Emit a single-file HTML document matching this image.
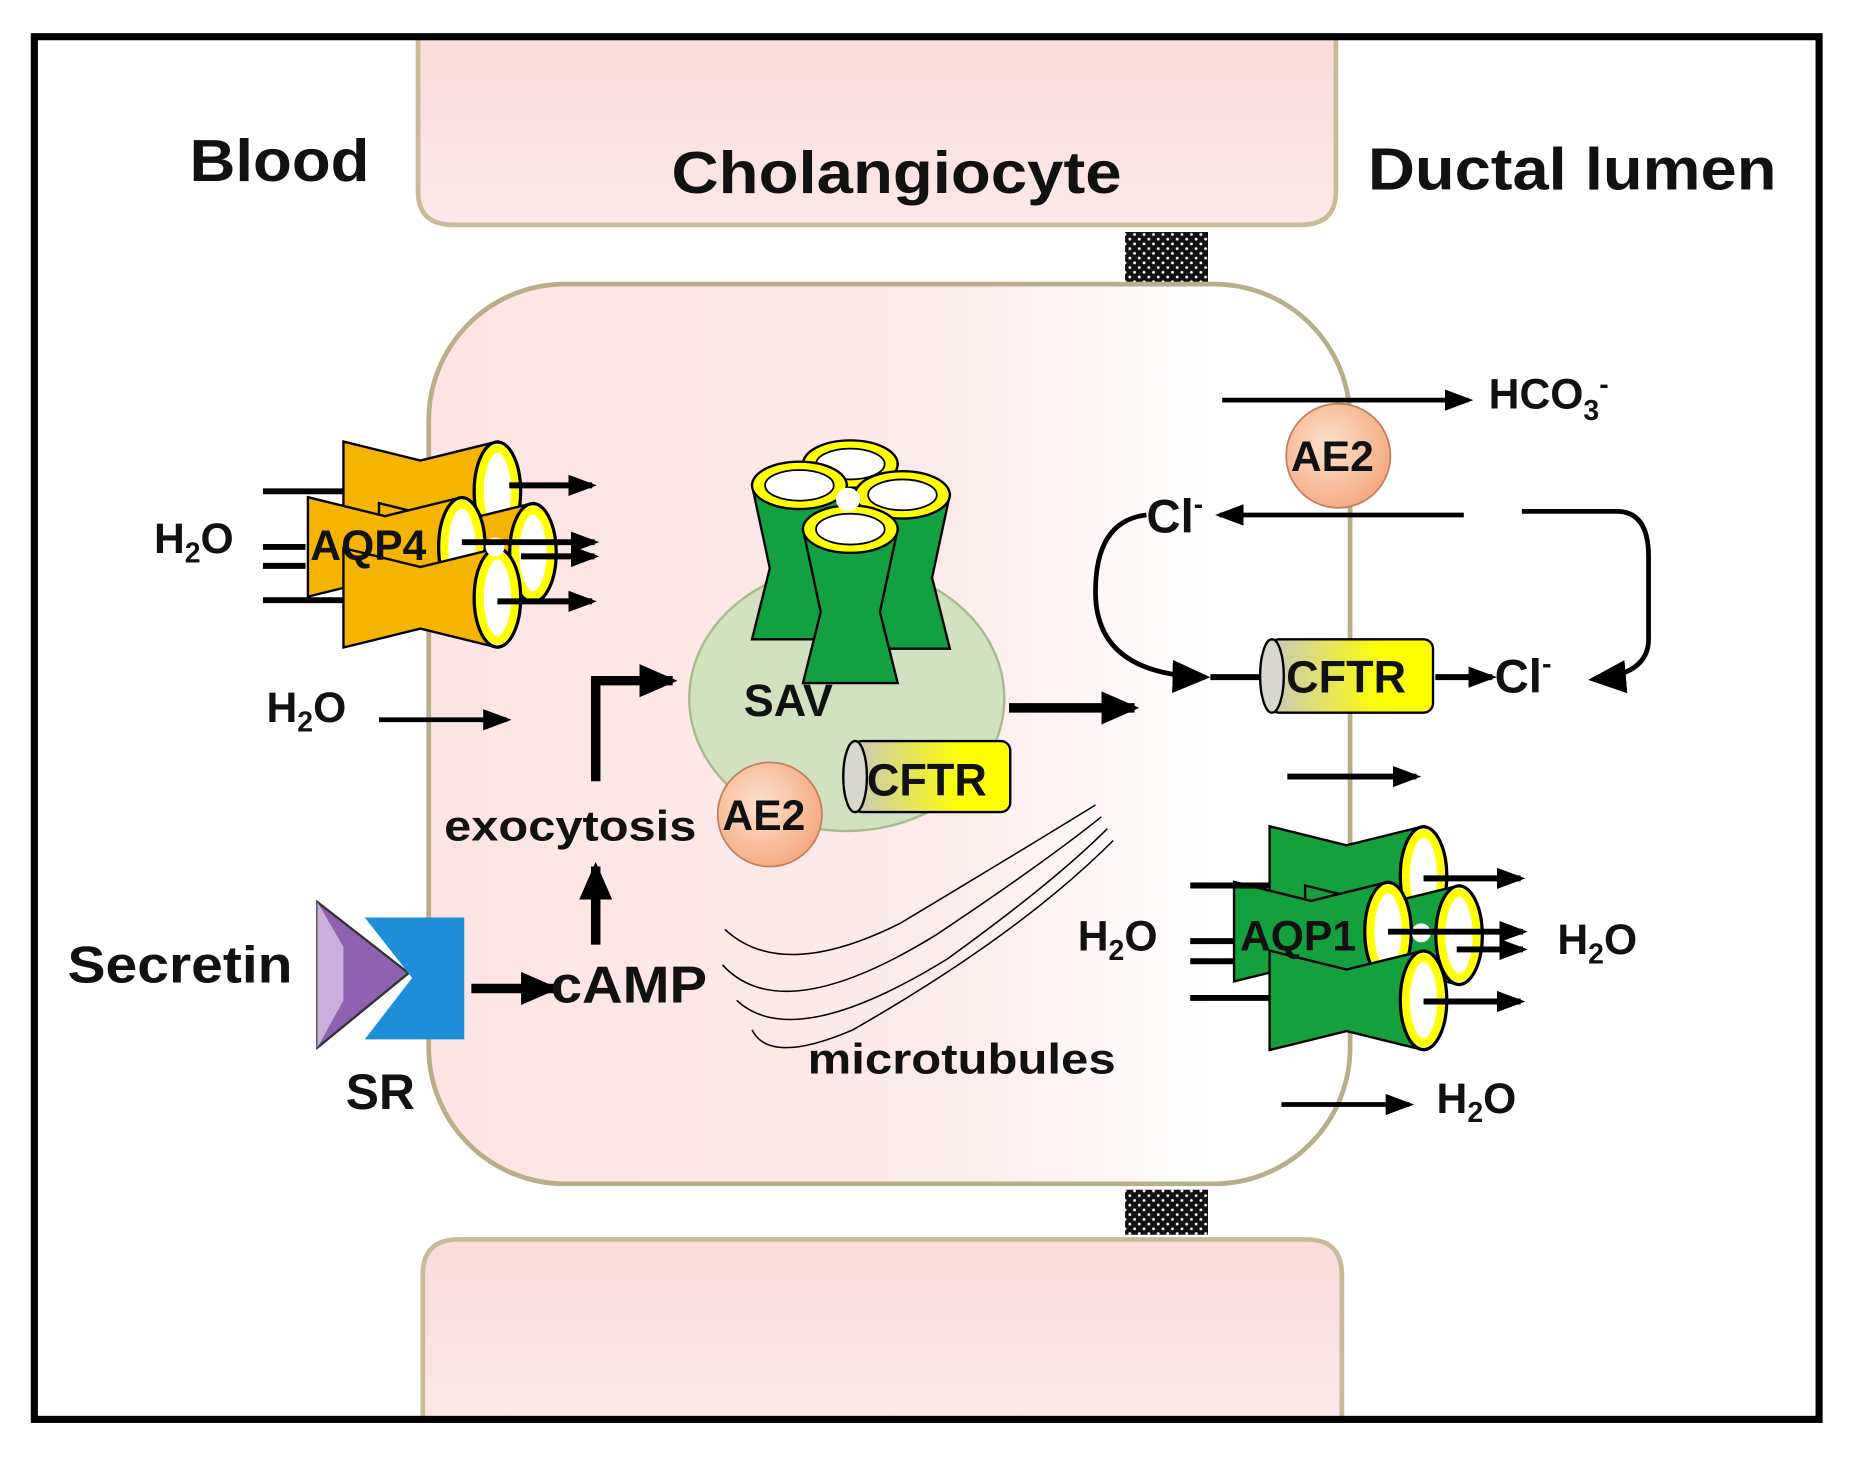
<!DOCTYPE html>
<html><head><meta charset="utf-8"><style>
html,body{margin:0;padding:0;background:#fff}
svg{display:block}
text{font-family:"Liberation Sans",Arial,sans-serif;font-weight:bold;fill:#111}
</style></head><body>
<svg width="1857" height="1462" viewBox="0 0 1568 1235" preserveAspectRatio="none" xmlns="http://www.w3.org/2000/svg">
<defs>
<linearGradient id="cellg" x1="0" x2="1" y1="0" y2="0">
<stop offset="0" stop-color="#fde4e4"/><stop offset="0.55" stop-color="#fdeaea"/><stop offset="0.85" stop-color="#ffffff"/></linearGradient>
<linearGradient id="topg" x1="0" y1="0" x2="0" y2="1"><stop offset="0" stop-color="#f9dcdc"/><stop offset="1" stop-color="#fbe8e8"/></linearGradient>
<linearGradient id="cftrg" x1="0" x2="1"><stop offset="0" stop-color="#c8c8c0"/><stop offset="0.7" stop-color="#ffff00"/></linearGradient>
<radialGradient id="ae2g" cx="0.4" cy="0.4" r="0.7"><stop offset="0" stop-color="#fde2cc"/><stop offset="1" stop-color="#f4a47a"/></radialGradient>
<pattern id="dots" width="8" height="8" patternUnits="userSpaceOnUse"><rect width="8" height="8" fill="#111"/><circle cx="2" cy="2" r="1.2" fill="#fff"/><circle cx="6" cy="6" r="1.2" fill="#fff"/></pattern>
<marker id="ah2" markerWidth="32" markerHeight="30" refX="28" refY="15" orient="auto" markerUnits="userSpaceOnUse"><path d="M0,1 L32,15 L0,29 z" fill="#000"/></marker>
<marker id="ahs" markerWidth="24" markerHeight="22" refX="20" refY="11" orient="auto" markerUnits="userSpaceOnUse"><path d="M0,2 L24,11 L0,20 z" fill="#000"/></marker>
<g id="hch">
<path d="M-130,-42 L-65,-26 L0,-42 L0,42 L-65,26 L-130,42 Z" stroke="#000" stroke-width="2"/>
<ellipse cx="0" cy="0" rx="20" ry="42" fill="#fff" stroke="#000" stroke-width="2"/>
<ellipse cx="0" cy="0" rx="15" ry="36" fill="#fff" stroke="#ffff00" stroke-width="7"/>
<ellipse cx="0" cy="0" rx="19" ry="41" fill="none" stroke="#000" stroke-width="1.5"/>
</g>
<g id="vch">
<path d="M-40,0 L-25,70 L-40,130 L40,130 L25,70 L40,0 Z" fill="#12a040" stroke="#000" stroke-width="2"/>
<ellipse cx="0" cy="0" rx="40" ry="20" fill="#ffff00" stroke="#000" stroke-width="2"/>
<ellipse cx="0" cy="0" rx="29" ry="13" fill="#fff" stroke="#000" stroke-width="1.5"/>
</g>
</defs>
<rect x="0" y="0" width="1568" height="1235" fill="#fff"/>
<path d="M353,32 L353,162 Q353,190 383,190 L1098,190 Q1128,190 1128,162 L1128,32 Z" fill="url(#topg)" stroke="#c8bc98" stroke-width="4"/>
<path d="M357,1200 L357,1077 Q357,1047 387,1047 L1103,1047 Q1133,1047 1133,1077 L1133,1200 Z" fill="url(#topg)" stroke="#c8bc98" stroke-width="4"/>
<rect x="362" y="240" width="778" height="760" rx="115" ry="115" fill="url(#cellg)" stroke="#b8ae8a" stroke-width="4"/>
<rect x="950" y="196" width="70" height="42" fill="url(#dots)"/>
<rect x="950" y="1005" width="70" height="38" fill="url(#dots)"/>
<rect x="29" y="31" width="1507" height="1168" fill="none" stroke="#000" stroke-width="6"/>
<text x="160" y="153" font-size="50" textLength="152" lengthAdjust="spacingAndGlyphs">Blood</text>
<text x="567" y="163" font-size="50" textLength="380" lengthAdjust="spacingAndGlyphs">Cholangiocyte</text>
<text x="1155" y="160" font-size="50" textLength="345" lengthAdjust="spacingAndGlyphs">Ductal lumen</text>

<g fill="#f5b400">
<use href="#hch" x="420" y="415"/>
<use href="#hch" x="450" y="467"/>
<use href="#hch" x="390" y="462"/>
<use href="#hch" x="420" y="505"/>
</g>
<circle cx="418" cy="462" r="8" fill="#fff"/>
<g stroke="#000" stroke-width="5" fill="none">
<line x1="222" y1="415" x2="290" y2="415"/>
<line x1="222" y1="462" x2="258" y2="462"/>
<line x1="222" y1="478" x2="258" y2="478"/>
<line x1="222" y1="507" x2="290" y2="507"/>
<line x1="430" y1="410" x2="500" y2="410" marker-end="url(#ahs)"/>
<line x1="390" y1="458" x2="502" y2="458" marker-end="url(#ahs)"/>
<line x1="440" y1="470" x2="502" y2="470" marker-end="url(#ahs)"/>
<line x1="420" y1="508" x2="500" y2="508" marker-end="url(#ahs)"/>
</g>
<text x="262" y="473" font-size="36">AQP4</text>
<text x="130" y="467" font-size="36">H<tspan font-size="24" dy="8">2</tspan><tspan dy="-8">O</tspan></text>

<text x="225" y="610" font-size="36">H<tspan font-size="24" dy="8">2</tspan><tspan dy="-8">O</tspan></text>
<line x1="320" y1="608" x2="428" y2="608" stroke="#000" stroke-width="4" marker-end="url(#ahs)"/>

<ellipse cx="715" cy="590" rx="133" ry="112" fill="#d2e2c0" stroke="#a8ba90" stroke-width="2"/>
<use href="#vch" x="718" y="392"/>
<use href="#vch" x="675" y="410"/>
<use href="#vch" x="762" y="418"/>
<use href="#vch" x="718" y="447"/>
<circle cx="716" cy="422" r="10" fill="#fff"/>
<text x="628" y="605" font-size="38">SAV</text>
<rect x="720" y="626" width="133" height="60" rx="8" fill="url(#cftrg)" stroke="#000" stroke-width="2"/>
<ellipse cx="722" cy="656" rx="10" ry="30" fill="#d8d8d0" stroke="#000" stroke-width="2"/>
<text x="732" y="672" font-size="38">CFTR</text>
<circle cx="650" cy="688" r="44" fill="url(#ae2g)" stroke="#c08060" stroke-width="1.5"/>
<text x="610" y="701" font-size="36">AE2</text>

<text x="375" y="710" font-size="36" textLength="213" lengthAdjust="spacingAndGlyphs">exocytosis</text>
<path d="M503,660 L503,575 L568,575" stroke="#000" stroke-width="8" fill="none" marker-end="url(#ah2)"/>
<line x1="503" y1="798" x2="503" y2="732" stroke="#000" stroke-width="8" marker-end="url(#ah2)"/>
<line x1="852" y1="598" x2="958" y2="598" stroke="#000" stroke-width="8" marker-end="url(#ah2)"/>

<path d="M268,762 L345,822 L268,885 Z" fill="#8e62b0" stroke="#333" stroke-width="2"/>
<path d="M268,762 L290,800 L290,845 L268,885 Z" fill="#c9b0dc"/>
<path d="M308,775 L392,775 L392,878 L308,878 L348,826 Z" fill="#1e8ed8"/>
<text x="57" y="830" font-size="44" textLength="190" lengthAdjust="spacingAndGlyphs">Secretin</text>
<text x="292" y="937" font-size="42">SR</text>
<line x1="398" y1="835" x2="468" y2="835" stroke="#000" stroke-width="8" marker-end="url(#ah2)"/>
<text x="465" y="847" font-size="44" textLength="132" lengthAdjust="spacingAndGlyphs">cAMP</text>

<g stroke="#000" stroke-width="1.3" fill="none">
<path d="M612,785 Q660,830 760,780 Q860,720 925,680"/>
<path d="M610,815 Q660,870 790,790 Q880,730 930,690"/>
<path d="M622,845 Q670,890 800,810 Q890,745 935,700"/>
<path d="M635,870 Q650,900 720,870 Q860,790 940,710"/>
</g>
<text x="682" y="907" font-size="36" textLength="260" lengthAdjust="spacingAndGlyphs">microtubules</text>

<line x1="1032" y1="338" x2="1240" y2="338" stroke="#000" stroke-width="4" marker-end="url(#ahs)"/>
<text x="1257" y="345" font-size="36">HCO<tspan font-size="24" dy="10">3</tspan><tspan font-size="24" dy="-22">-</tspan></text>
<circle cx="1130" cy="385" r="44" fill="url(#ae2g)" stroke="#c08060" stroke-width="1.5"/>
<text x="1090" y="398" font-size="36">AE2</text>
<line x1="1236" y1="435" x2="1030" y2="435" stroke="#000" stroke-width="4" marker-end="url(#ahs)"/>
<text x="968" y="450" font-size="40">Cl<tspan font-size="24" dy="-16">-</tspan></text>
<path d="M968,435 Q925,440 925,500 Q925,570 1018,572" stroke="#000" stroke-width="4" fill="none" marker-end="url(#ah2)"/>
<path d="M1285,432 L1365,432 Q1392,432 1392,470 L1392,540 Q1392,570 1345,574" stroke="#000" stroke-width="4" fill="none" marker-end="url(#ah2)"/>
<line x1="1022" y1="572" x2="1070" y2="572" stroke="#000" stroke-width="5"/>
<rect x="1072" y="540" width="138" height="62" rx="8" fill="url(#cftrg)" stroke="#000" stroke-width="2"/>
<ellipse cx="1074" cy="571" rx="10" ry="31" fill="#d8d8d0" stroke="#000" stroke-width="2"/>
<text x="1086" y="585" font-size="38">CFTR</text>
<line x1="1212" y1="572" x2="1260" y2="572" stroke="#000" stroke-width="5" marker-end="url(#ahs)"/>
<text x="1262" y="585" font-size="40">Cl<tspan font-size="24" dy="-16">-</tspan></text>
<line x1="1087" y1="656" x2="1196" y2="656" stroke="#000" stroke-width="5" marker-end="url(#ahs)"/>

<g fill="#14a03c">
<use href="#hch" x="1202" y="740"/>
<use href="#hch" x="1232" y="790"/>
<use href="#hch" x="1172" y="787"/>
<use href="#hch" x="1202" y="845"/>
</g>
<circle cx="1200" cy="788" r="8" fill="#fff"/>
<g stroke="#000" stroke-width="5" fill="none">
<line x1="1005" y1="748" x2="1072" y2="748"/>
<line x1="1005" y1="795" x2="1042" y2="795"/>
<line x1="1005" y1="812" x2="1042" y2="812"/>
<line x1="1005" y1="843" x2="1072" y2="843"/>
<line x1="1202" y1="742" x2="1284" y2="742" marker-end="url(#ahs)"/>
<line x1="1172" y1="787" x2="1286" y2="787" marker-end="url(#ahs)"/>
<line x1="1230" y1="802" x2="1286" y2="802" marker-end="url(#ahs)"/>
<line x1="1202" y1="846" x2="1284" y2="846" marker-end="url(#ahs)"/>
</g>
<text x="1047" y="803" font-size="36">AQP1</text>
<text x="910" y="803" font-size="36">H<tspan font-size="24" dy="8">2</tspan><tspan dy="-8">O</tspan></text>
<text x="1315" y="806" font-size="36">H<tspan font-size="24" dy="8">2</tspan><tspan dy="-8">O</tspan></text>
<line x1="1082" y1="933" x2="1190" y2="933" stroke="#000" stroke-width="4" marker-end="url(#ahs)"/>
<text x="1213" y="940" font-size="36">H<tspan font-size="24" dy="8">2</tspan><tspan dy="-8">O</tspan></text>
</svg>
</body></html>
